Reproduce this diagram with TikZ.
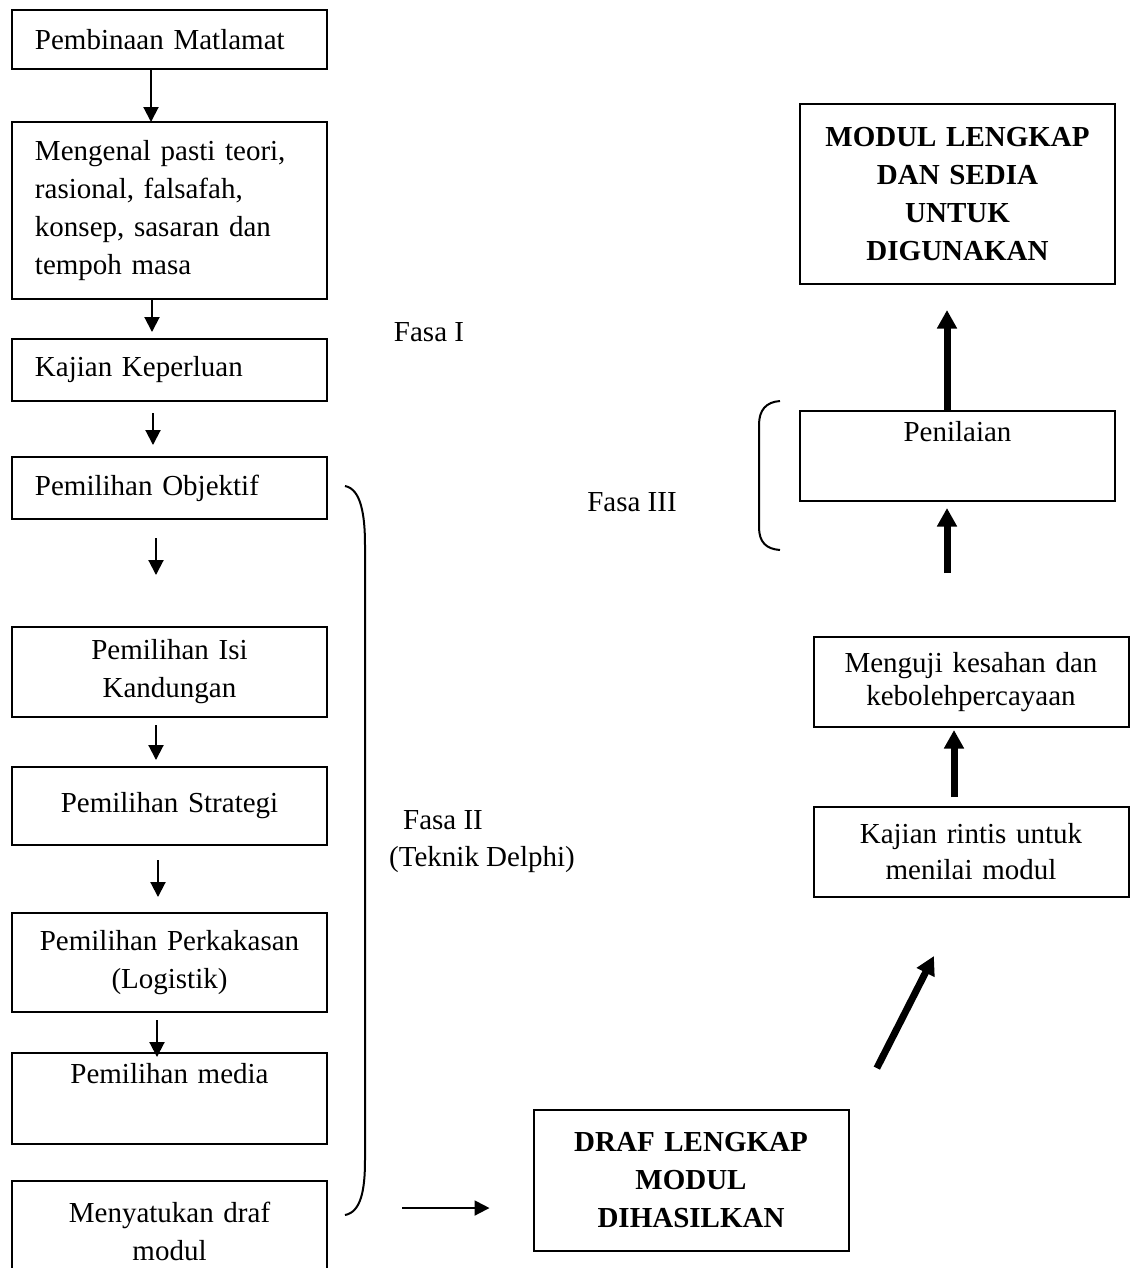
\documentclass[tikz,border=0pt]{standalone}
\usepackage{fontspec}
\setmainfont{Liberation Serif}
\usetikzlibrary{arrows.meta,positioning}

\begin{document}
\begin{tikzpicture}[x=0.4pt,y=-0.4pt,
  font=\fontsize{11.6}{15.2}\selectfont,
  box/.style={draw,line width=0.8pt,minimum width=126pt,text width=114pt,
    inner xsep=6pt,inner ysep=2pt,outer sep=0pt,align=center},
  lbox/.style={box,text width=107.6pt,inner xsep=9.2pt,align=left},
  bigbox/.style={box,font=\fontsize{11.6}{15.2}\selectfont\bfseries},
  arr/.style={-{Triangle[length=6pt,width=6pt]},line width=0.8pt},
  bigarrow/.style={-{Triangle[length=7.4pt,width=7.6pt]},line width=2.8pt},
  fasaline/.style={line width=0.8pt}]

\useasboundingbox (0,0) rectangle (1131,1268);

% Fasa I dan II
\node[lbox,minimum height=23.6pt] (matlamat) at (169.5,39.5) {Pembinaan Matlamat};
\node[lbox,minimum height=70.8pt,below=21.2pt of matlamat] (teori)
  {Mengenal pasti teori,\\rasional, falsafah,\\konsep, sasaran dan\\tempoh masa};
\node[lbox,minimum height=24.8pt,below=16pt of teori] (keperluan) {Kajian Keperluan};
\node[lbox,minimum height=24.8pt,below=22.4pt of keperluan] (objektif) {Pemilihan Objektif};
\node[box,minimum height=36pt,below=43.2pt of objektif] (isi) {Pemilihan Isi\\Kandungan};
\node[box,minimum height=31.2pt,below=20pt of isi] (strategi) {Pemilihan Strategi};
\node[box,minimum height=39.6pt,below=27.2pt of strategi] (perkakasan) {Pemilihan Perkakasan\\(Logistik)};
\node[box,minimum height=36.4pt,below=16.4pt of perkakasan] (media) {Pemilihan media\\\strut};
\node[box,minimum height=40pt,below=14.8pt of media] (menyatukan) {Menyatukan draf\\modul};

% Fasa III
\node[bigbox,minimum height=72pt] (lengkap) at (957.5,194)
  {MODUL LENGKAP\\DAN SEDIA\\UNTUK\\DIGUNAKAN};
\node[box,minimum height=36pt,below=50.8pt of lengkap] (penilaian) {Penilaian\\\strut};
\node[box,minimum height=36pt,font=\fontsize{11.6}{13.2}\selectfont] (menguji) at (971,682)
  {Menguji kesahan dan\\kebolehpercayaan};
\node[box,minimum height=36pt,font=\fontsize{11.6}{14.4}\selectfont,below=32pt of menguji] (rintis)
  {Kajian rintis untuk\\menilai modul};
\node[bigbox,minimum height=56.4pt] (draf) at (691,1180.5) {DRAF LENGKAP\\MODUL\\DIHASILKAN};

\node (fasa1) at (429,332) {Fasa I};
\node (fasa2) at (443,820) {Fasa II};
\node (delphi) at (482,860) {(Teknik Delphi)};
\node (fasa3) at (632,502) {Fasa III};

\draw[arr] ([xshift=-7.4pt]matlamat.south) -- ([xshift=-7.4pt]teori.north);
\draw[arr,shorten >=2.8pt] ([xshift=-7pt]teori.south) -- ([xshift=-7pt]keperluan.north);
\draw[arr,shorten <=4.8pt,shorten >=4.8pt] ([xshift=-6.6pt]keperluan.south) -- ([xshift=-6.6pt]objektif.north);
\draw[arr,shorten <=7.6pt,shorten >=20.8pt] ([xshift=-5.4pt]objektif.south) -- ([xshift=-5.4pt]isi.north);
\draw[arr,shorten <=3.2pt,shorten >=2.8pt] ([xshift=-5.4pt]isi.south) -- ([xshift=-5.4pt]strategi.north);
\draw[arr,shorten <=6pt,shorten >=6.4pt] ([xshift=-4.6pt]strategi.south) -- ([xshift=-4.6pt]perkakasan.north);
\draw[arr,shorten <=3.2pt,shorten >=-1.6pt] ([xshift=-5pt]perkakasan.south) -- ([xshift=-5pt]media.north);
\draw[arr,shorten <=30pt,shorten >=17.6pt] ([yshift=9.2pt]menyatukan.east) -- ([yshift=9.2pt]menyatukan.east -| draf.west);

\draw[bigarrow,shorten <=18.8pt,shorten >=26.5pt] ([xshift=2.8pt]draf.north east) -- ([xshift=-2.8pt]rintis.south);
\draw[bigarrow,shorten <=4pt,shorten >=1.2pt] ([xshift=-6.8pt]rintis.north) -- ([xshift=-6.8pt]menguji.south);
\draw[bigarrow,shorten <=25.6pt,shorten >=2.8pt] ([xshift=-4.2pt]penilaian.south |- menguji.north) -- ([xshift=-4.2pt]penilaian.south);
\draw[bigarrow,shorten >=10.4pt] ([xshift=-4.2pt]penilaian.north) -- ([xshift=-4.2pt]lengkap.south);

% kurungan fasa
\draw[fasaline] (345,486) .. controls (361,489) and (365,515) .. (365,545) -- (365,1160)
  .. controls (365,1190) and (361,1212) .. (345,1215);
\draw[fasaline] (780,401) .. controls (766,402) and (759,410) .. (759,425) -- (759,527)
  .. controls (759,542) and (766,549) .. (780,550);
\end{tikzpicture}
\end{document}
